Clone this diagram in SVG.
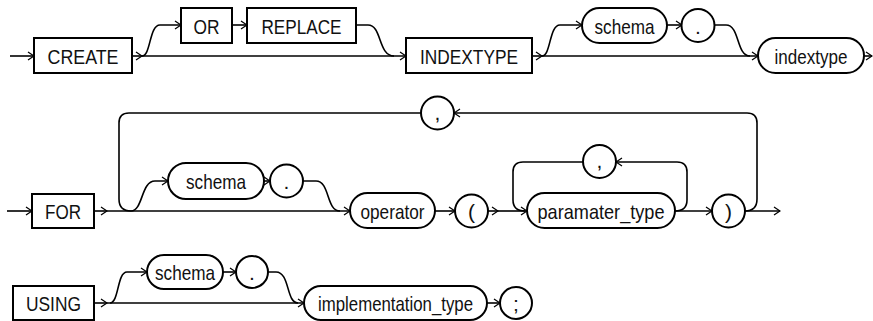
<svg xmlns="http://www.w3.org/2000/svg" width="873" height="321" viewBox="0 0 873 321">
<defs>
<marker id="arr" viewBox="0 0 8 10" refX="7" refY="5" markerWidth="8" markerHeight="10" markerUnits="userSpaceOnUse" orient="auto">
<path d="M1,1 L7,5 L1,9" fill="none" stroke="#000" stroke-width="1.3"/>
</marker>
<style>
.box{fill:#fff;stroke:#000;stroke-width:2}
.ln{fill:none;stroke:#000;stroke-width:1.6}
.a{marker-end:url(#arr)}
text{font-family:"Liberation Sans",Arial,sans-serif;font-size:21px;fill:#111;text-anchor:middle}
</style>
</defs>
<g id="connectors">
<path class="ln a" d="M10,56 H34"/>
<path class="ln a" d="M132,56 H142"/>
<path class="ln a" d="M142,56 H406"/>
<path class="ln a" d="M142,56 C151,56 149,25 160,25 H181"/>
<path class="ln a" d="M232,25 H247"/>
<path class="ln" d="M356,25 H368 C382,25 378,56 394,56"/>
<path class="ln a" d="M532,56 H542"/>
<path class="ln a" d="M542,56 H758"/>
<path class="ln a" d="M542,56 C551,56 549,25 560,25 H582"/>
<path class="ln a" d="M667,25 H682"/>
<path class="ln" d="M714,25 H726 C740,25 736,56 750,56"/>
<path class="ln a" d="M864,56 H872"/>
<path class="ln a" d="M7,211 H32"/>
<path class="ln a" d="M94,211 H107"/>
<path class="ln a" d="M107,211 H350"/>
<path class="ln a" d="M745,211 Q757,211 757,199 V123 Q757,113 747,113 H454"/>
<path class="ln" d="M421,113 H129 Q119,113 119,123 V199 Q119,211 131,211"/>
<path class="ln a" d="M131,211 C143,211 141,181 155,181 H168"/>
<path class="ln a" d="M264,181 H270"/>
<path class="ln" d="M303,181 H316 C330,181 326,211 340,211"/>
<path class="ln a" d="M435,211 H455"/>
<path class="ln a" d="M488,211 H498"/>
<path class="ln a" d="M498,211 H527"/>
<path class="ln a" d="M675,211 Q687,211 687,200 V172 Q687,162 677,162 H616"/>
<path class="ln" d="M583,162 H523 Q513,162 513,172 V200 Q513,211 525,211"/>
<path class="ln a" d="M675,211 H712"/>
<path class="ln a" d="M745,211 H780"/>
<path class="ln a" d="M94,303 H107"/>
<path class="ln a" d="M107,303 H304"/>
<path class="ln a" d="M110,303 C119,303 117,272 127,272 H147"/>
<path class="ln a" d="M223,272 H236"/>
<path class="ln" d="M268,272 H276 C290,272 286,303 298,303"/>
<path class="ln a" d="M487,303 H500"/>
</g>
<g id="n-create"><rect class="box" x="34" y="38" width="98" height="35"/><text x="83" y="63.5" textLength="71" lengthAdjust="spacingAndGlyphs">CREATE</text></g>
<g id="n-or"><rect class="box" x="181" y="8" width="51" height="35"/><text x="206.5" y="33.5" textLength="26" lengthAdjust="spacingAndGlyphs">OR</text></g>
<g id="n-replace"><rect class="box" x="247" y="8" width="109" height="35"/><text x="301.5" y="33.5" textLength="80" lengthAdjust="spacingAndGlyphs">REPLACE</text></g>
<g id="n-indextype-kw"><rect class="box" x="406" y="38" width="126" height="35"/><text x="469" y="63.5" textLength="98" lengthAdjust="spacingAndGlyphs">INDEXTYPE</text></g>
<g id="n-schema1"><rect class="box" x="582" y="8" width="85" height="35" rx="17.5"/><text x="624.5" y="33.5" textLength="60" lengthAdjust="spacingAndGlyphs">schema</text></g>
<g id="n-dot1"><circle class="box" cx="698" cy="25.5" r="16.5"/><text x="698" y="33.5">.</text></g>
<g id="n-indextype"><rect class="box" x="758" y="38" width="106" height="35" rx="17.5"/><text x="811" y="63.5" textLength="73" lengthAdjust="spacingAndGlyphs">indextype</text></g>
<g id="n-for"><rect class="box" x="32" y="194" width="62" height="34"/><text x="63" y="218.5" textLength="36" lengthAdjust="spacingAndGlyphs">FOR</text></g>
<g id="n-comma-outer"><circle class="box" cx="437.5" cy="113" r="16.5"/><text x="437.5" y="120">,</text></g>
<g id="n-schema2"><rect class="box" x="168" y="163" width="96" height="36" rx="18"/><text x="216" y="188.5" textLength="60" lengthAdjust="spacingAndGlyphs">schema</text></g>
<g id="n-dot2"><circle class="box" cx="286.5" cy="181" r="16.5"/><text x="286.5" y="188.5">.</text></g>
<g id="n-operator"><rect class="box" x="350" y="193" width="85" height="35" rx="17.5"/><text x="392.5" y="218.5" textLength="64" lengthAdjust="spacingAndGlyphs">operator</text></g>
<g id="n-lparen"><circle class="box" cx="471.5" cy="211" r="16.5"/><text x="471.5" y="218.5">(</text></g>
<g id="n-comma-inner"><circle class="box" cx="599.5" cy="161.5" r="16.5"/><text x="599.5" y="168">,</text></g>
<g id="n-paramater"><rect class="box" x="527" y="193" width="148" height="35" rx="17.5"/><text x="601" y="218.5" textLength="127" lengthAdjust="spacingAndGlyphs">paramater_type</text></g>
<g id="n-rparen"><circle class="box" cx="728.5" cy="211" r="16.5"/><text x="728.5" y="218.5">)</text></g>
<g id="n-using"><rect class="box" x="13" y="286" width="81" height="34"/><text x="53.5" y="310.5" textLength="55" lengthAdjust="spacingAndGlyphs">USING</text></g>
<g id="n-schema3"><rect class="box" x="147" y="255" width="76" height="34" rx="17"/><text x="185" y="279.5" textLength="60" lengthAdjust="spacingAndGlyphs">schema</text></g>
<g id="n-dot3"><circle class="box" cx="252" cy="272" r="16"/><text x="252" y="279.5">.</text></g>
<g id="n-impl"><rect class="box" x="304" y="286" width="183" height="34" rx="17"/><text x="395.5" y="310.5" textLength="155" lengthAdjust="spacingAndGlyphs">implementation_type</text></g>
<g id="n-semi"><circle class="box" cx="516" cy="303" r="16"/><text x="516" y="310.5">;</text></g>
</svg>
